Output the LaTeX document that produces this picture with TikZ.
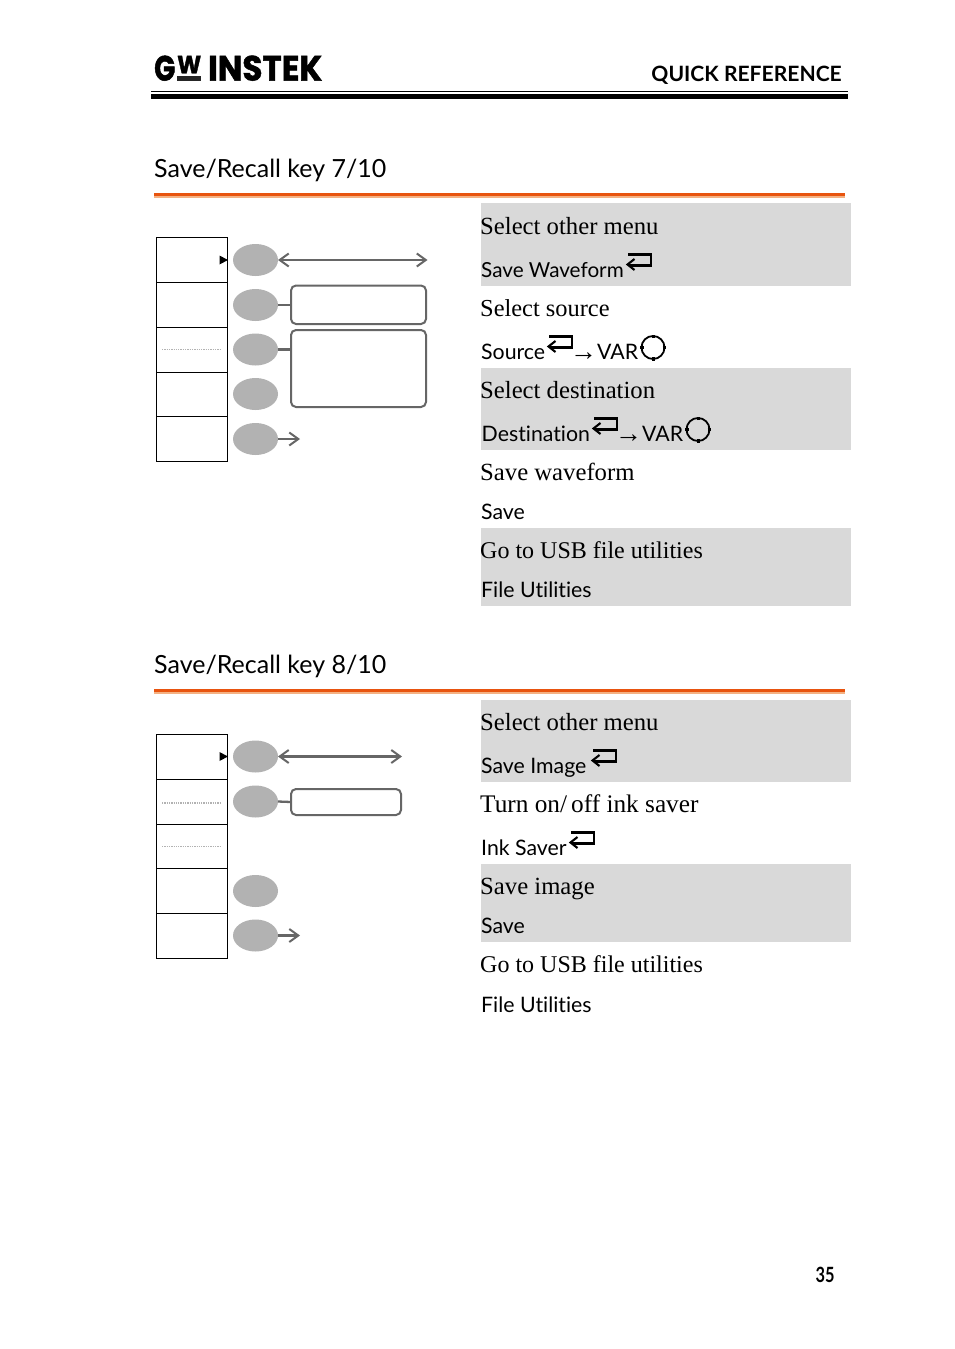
\documentclass[tikz,border=0pt]{standalone}
\usepackage{graphicx}
\usepackage{fontspec}
\setmainfont{Liberation Serif}
\setsansfont{Lato}[Ligatures=NoCommon]
\usetikzlibrary{arrows.meta,shapes.geometric}
\newfontfamily\arrowfont{Liberation Serif}
\newfontfamily\logofont{Poppins}[BoldFeatures={FakeBold=1.5}]
\definecolor{bandgray}{HTML}{D9D9D9}
\definecolor{softgray}{HTML}{B2B2B2}
\definecolor{linegray}{HTML}{666666}
\definecolor{rulered}{HTML}{E8540F}
\definecolor{rulelight}{HTML}{F4B183}
\tikzset{
  x=1pt,y=-1pt,
  softkey/.style={draw=black,line width=1.1pt,fill=white,minimum width=71pt,inner sep=0pt,outer sep=0pt},
  keyoval/.style={ellipse,fill=softgray,minimum width=45pt,minimum height=32pt,inner sep=0pt,outer sep=0pt},
  choicebox/.style={draw=linegray,line width=2pt,rounded corners=5pt,inner sep=0pt,outer sep=0pt,anchor=north west},
  conn/.style={draw=linegray,line width=2.3pt},
  barb/.style={conn,-{Straight Barb[length=9pt,width=13pt,line width=2pt]}},
  dbarb/.style={conn,{Straight Barb[length=9pt,width=13pt,line width=2pt]}-{Straight Barb[length=9pt,width=13pt,line width=2pt]}},
  dotline/.style={draw=softgray,line width=.8pt,dash pattern=on 1.3pt off 1pt},
  logopart/.style={anchor=south west,inner sep=0pt,font=\logofont\bfseries},
  body/.style={anchor=base west,inner sep=0pt,font=\fontsize{24.7}{28}\selectfont},
  cmd/.style={anchor=base west,inner sep=0pt,font=\sffamily\fontsize{21.3}{26}\selectfont},
  sect/.style={anchor=base west,inner sep=0pt,font=\sffamily\fontsize{25}{30}\selectfont},
  thenarrow/.style={anchor=base west,inner sep=0pt,font=\arrowfont\fontsize{27}{27}\selectfont},
  enterkey/.pic={
    \draw[line width=2.1pt,line join=miter] (2,-10)--(25,-10)--(25,1)--(3,1);
    \draw[line width=2.1pt] (8.5,-5.5)--(1.5,0)--(8.5,5.5);
  },
  varknob/.pic={
    \draw[line width=1.8pt] (0,0) circle[radius=11.5];
    \foreach \a in {0,90,180,270}{\draw[line width=3pt] (\a:9.5)--(\a:13);}
  }
}
\begin{document}
\begin{tikzpicture}
\useasboundingbox[fill=white] (0,0) rectangle (954,1349);
% header
\node[logopart] (logoG) at (154,81) {\resizebox{21pt}{25pt}{G}};
\node[logopart] (logoW) at (177,73.5) {\resizebox{24pt}{17.5pt}{W}};
\fill[black!85] (177,76) rectangle (201,81);
\node[logopart] (logoI) at (208,81) {\resizebox{114pt}{25pt}{INSTEK}};
\node[anchor=base east,inner sep=0pt,font=\sffamily\bfseries\fontsize{21.1}{26}\selectfont] (head) at (842,81) {QUICK REFERENCE};
\fill (151,91) rectangle (848,92.3);
\fill (151,94) rectangle (848,99);
% bands
\fill[bandgray] (481,203) rectangle (851,286);
\fill[bandgray] (481,368) rectangle (851,450);
\fill[bandgray] (481,528) rectangle (851,606);
\fill[bandgray] (481,700) rectangle (851,782);
\fill[bandgray] (481,864) rectangle (851,942);
% titles
\node[sect] (t1) at (154,177) {Save/Recall key 7/10};
\fill[rulelight] (154,193) rectangle (845,197.5);
\fill[rulered] (154,193) rectangle (845,196);
\node[sect] (t2) at (154,673) {Save/Recall key 8/10};
\fill[rulelight] (154,689) rectangle (845,693.5);
\fill[rulered] (154,689) rectangle (845,692);
% softkeys 1
\node[softkey,minimum height=45pt] (a1) at (192,260) {};
\node[softkey,minimum height=45pt] (a2) at (192,305) {};
\node[softkey,minimum height=45pt] (a3) at (192,350) {};
\node[softkey,minimum height=44pt] (a4) at (192,394.5) {};
\node[softkey,minimum height=45pt] (a5) at (192,439) {};
\fill (219.5,255.5)--(228,260)--(219.5,264.5)--cycle;
\coordinate (a3l) at (162,349.5); \coordinate (a3r) at (221,349.5);
\draw[dotline] (a3l)--(a3r);
\node[keyoval] (ka1) at (255.5,260) {};
\node[keyoval] (ka2) at (255.5,305) {};
\node[keyoval] (ka3) at (255.5,349.5) {};
\node[keyoval] (ka4) at (255.5,394) {};
\node[keyoval] (ka5) at (255.5,439) {};
\coordinate (ea1) at (427.5,260);
\coordinate (ea5) at (300,439);
\draw[dbarb] (ka1.east)--(ea1);
\draw[barb] (ka5.east)--(ea5);
\node[choicebox,minimum width=135pt,minimum height=38.5pt] (ba1) at (291,285.5) {};
\node[choicebox,minimum width=135pt,minimum height=77pt] (ba2) at (291,330) {};
\draw[conn] (ka2.east)--(ba2.west|-ka2.east);
\draw[conn] (ka3.east)--(ba2.west|-ka3.east);
% softkeys 2
\node[softkey,minimum height=45pt] (c1) at (192,757) {};
\node[softkey,minimum height=45pt] (c2) at (192,802) {};
\node[softkey,minimum height=44pt] (c3) at (192,846.5) {};
\node[softkey,minimum height=45pt] (c4) at (192,891) {};
\node[softkey,minimum height=45pt] (c5) at (192,936) {};
\fill (219.5,752)--(228,756.5)--(219.5,761)--cycle;
\coordinate (c2l) at (162,803); \coordinate (c2r) at (221,803);
\coordinate (c3l) at (162,846.5); \coordinate (c3r) at (221,846.5);
\draw[dotline,line width=1.2pt] (c2l)--(c2r);
\draw[dotline] (c3l)--(c3r);
\node[keyoval] (kc1) at (255.5,756.5) {};
\node[keyoval] (kc2) at (255.5,801.5) {};
\node[keyoval] (kc4) at (255.5,891) {};
\node[keyoval] (kc5) at (255.5,935.5) {};
\coordinate (ec1) at (402,756.5);
\coordinate (ec5) at (300,935.5);
\draw[dbarb] (kc1.east)--(ec1);
\draw[barb] (kc5.east)--(ec5);
\node[choicebox,minimum width=110pt,minimum height=26pt] (bc) at (291,789) {};
\draw[conn] (kc2.east)--(bc.west);
% texts 1
\node[body] (x1) at (480,234.5) {Select other menu};
\node[cmd,font=\sffamily\fontsize{20.7}{26}\selectfont] (x2) at (481,277.5) {Save Waveform};
\pic at (626,264.5) {enterkey};
\node[body,font=\fontsize{24.4}{28}\selectfont] (x3) at (480,316.5) {Select source};
\node[cmd] (x4) at (481,359.5) {Source};
\pic at (547,346.5) {enterkey};
\node[thenarrow] (x4a) at (570,360) {→};
\node[cmd] (x4b) at (597,359.5) {VAR};
\pic at (653,347.5) {varknob};
\node[body] (x5) at (480,398.5) {Select destination};
\node[cmd] (x6) at (481.5,441.5) {Destination};
\pic at (592,428.5) {enterkey};
\node[thenarrow] (x6a) at (615,442) {→};
\node[cmd] (x6b) at (642,441.5) {VAR};
\pic at (698,429.5) {varknob};
\node[body] (x7) at (480,480.5) {Save waveform};
\node[cmd] (x8) at (481,519.5) {Save};
\node[body,font=\fontsize{24}{28}\selectfont] (x9) at (480,558.5) {Go to USB file utilities};
\node[cmd] (x10) at (481,597.5) {File Utilities};
% texts 2
\node[body] (y1) at (480,730.5) {Select other menu};
\node[cmd] (y2) at (481,773.5) {Save Image};
\pic at (591,760.5) {enterkey};
\node[body,font=\fontsize{25.3}{28}\selectfont] (y3) at (480,812.5) {Turn on/\kern4pt off ink saver};
\node[cmd] (y4) at (481,855.5) {Ink Saver};
\pic at (569,842.5) {enterkey};
\node[body] (y5) at (480,894.5) {Save image};
\node[cmd] (y6) at (481,933.5) {Save};
\node[body,font=\fontsize{24}{28}\selectfont] (y7) at (480,972.5) {Go to USB file utilities};
\node[cmd] (y8) at (481,1012.5) {File Utilities};
% page number
\node[anchor=base,inner sep=0pt,font=\sffamily\bfseries\fontsize{21}{24}\selectfont] (pg) at (825,1282) {\scalebox{.78}[1]{35}};
\end{tikzpicture}
\end{document}
